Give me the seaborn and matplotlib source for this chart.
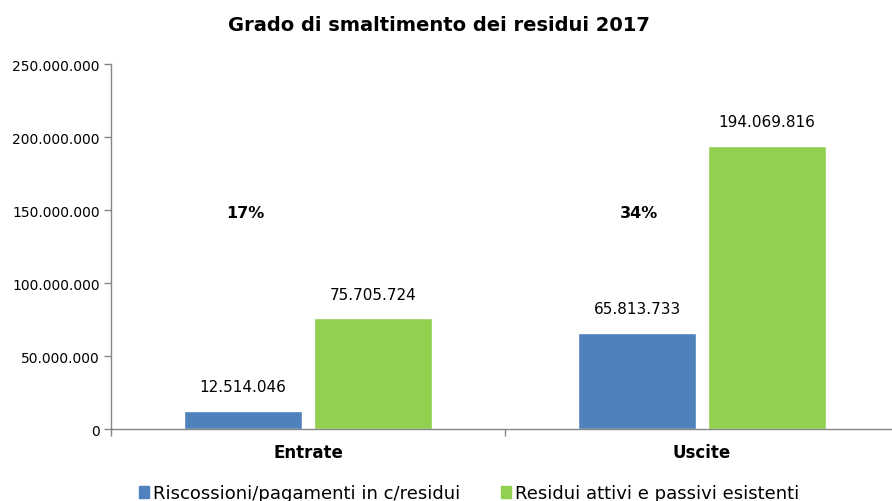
import matplotlib.pyplot as plt
import matplotlib.ticker as mticker
import pandas as pd
import seaborn as sns

categories = ['Entrate', 'Uscite']
series_names = ['Riscossioni/pagamenti in c/residui', 'Residui attivi e passivi esistenti']
riscossioni = [12514046, 65813733]
residui = [75705724, 194069816]
percentuali = ['17%', '34%']
colors = ['#4F81BD', '#92D050']


def fmt_it(v):
    return f'{int(v):,}'.replace(',', '.')


def generate_plot():
    sns.set_style('white')
    plt.rcParams['font.family'] = ['DejaVu Sans']
    plt.rcParams['text.color'] = 'black'
    plt.rcParams['xtick.color'] = 'black'
    plt.rcParams['ytick.color'] = 'black'

    df = pd.DataFrame({
        'Categoria': categories * 2,
        'Serie': [series_names[0]] * 2 + [series_names[1]] * 2,
        'Valore': riscossioni + residui,
    })

    fig = plt.figure(figsize=(8.92, 5.02), dpi=100)
    ax = fig.add_axes([0.1245, 0.1434, 0.8834, 0.7271])

    sns.barplot(data=df, x='Categoria', y='Valore', hue='Serie', palette=colors,
                width=0.658, gap=0.09, ax=ax, legend=False, saturation=1)

    ax.set_xlim(-0.5, 1.5)
    ax.set_ylim(0, 250000000)
    ax.yaxis.set_major_locator(mticker.MultipleLocator(50000000))
    ax.yaxis.set_major_formatter(mticker.FuncFormatter(lambda v, p: fmt_it(v)))
    ax.set_xlabel('')
    ax.set_ylabel('')

    # category boundaries as minor ticks, labels on major ticks without marks
    ax.set_xticks([-0.5, 0.5, 1.5], minor=True)
    ax.tick_params(axis='x', which='major', length=0, pad=10, labelsize=12, bottom=True)
    ax.tick_params(axis='x', which='minor', length=5, color='#868686', width=1,
                   bottom=True, direction='out')
    ax.tick_params(axis='y', which='major', length=5, color='#868686', width=1,
                   labelcolor='black', labelsize=10, left=True, pad=3)
    for lbl in ax.get_xticklabels():
        lbl.set_fontweight('bold')

    for s in ['top', 'right']:
        ax.spines[s].set_visible(False)
    for s in ['left', 'bottom']:
        ax.spines[s].set_color('#868686')
        ax.spines[s].set_linewidth(1)

    # value labels
    for cont in ax.containers:
        labels = [fmt_it(b.get_height()) for b in cont]
        ax.bar_label(cont, labels=labels, padding=12, fontsize=11, color='black')

    # percentage labels over the blue bars
    blue_bars = ax.containers[0]
    for b, pct in zip(blue_bars, percentuali):
        ax.text(b.get_x() + b.get_width() / 2 + 0.005, 148000000, pct, ha='center',
                va='center', fontsize=11.5, fontweight='bold')

    fig.suptitle('Grado di smaltimento dei residui 2017', x=0.4916, y=0.968,
                 fontsize=14, fontweight='bold')

    handles = [plt.Rectangle((0, 0), 1, 1, color=c) for c in colors]
    fig.legend(handles, series_names, loc='center', bbox_to_anchor=(0.526, 0.015),
               ncol=2, frameon=False, fontsize=13, handlelength=0.55, handleheight=0.6,
               handletextpad=0.2, columnspacing=2.3)

    fig.savefig('out.png', dpi=100)
    plt.close(fig)


if __name__ == '__main__':
    generate_plot()
